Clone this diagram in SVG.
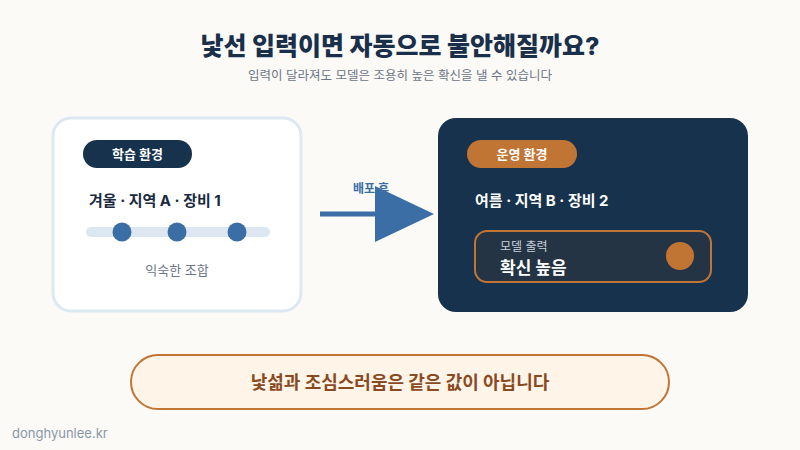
<svg xmlns="http://www.w3.org/2000/svg" width="800" height="450" viewBox="0 0 800 450">
<defs>
<style>
text{font-family:Inter,"Noto Sans CJK KR","Noto Sans",sans-serif}
.b{font-weight:700}
.pill{font-size:13px;font-weight:700;fill:#ffffff}
</style>
<marker id="ah" markerUnits="userSpaceOnUse" markerWidth="60" markerHeight="60" refX="0" refY="28" orient="auto" viewBox="0 0 60 56">
<path d="M0,0 L59,28 L0,56 Z" fill="#3a6ea5"/>
</marker>
</defs>
<rect width="800" height="450" fill="#fbfaf7"/>
<g id="title">
<text x="400" y="55" text-anchor="middle" font-weight="800" font-size="25" fill="#1a2f4a">낯선 입력이면 자동으로 불안해질까요?</text>
<text x="400" y="80" text-anchor="middle" font-size="12.5" fill="#6b7685">입력이 달라져도 모델은 조용히 높은 확신을 낼 수 있습니다</text>
</g>
<g id="train">
<rect x="53" y="118" width="248" height="193" rx="18" fill="#ffffff" stroke="#dde8f2" stroke-width="3"/>
<rect x="83" y="140" width="109" height="28" rx="14" fill="#17324d"/>
<text x="137.5" y="159" text-anchor="middle" class="pill">학습 환경</text>
<text x="89" y="206" class="b" font-size="15" fill="#1a2a40">겨울 · 지역 A · 장비 1</text>
<rect x="86" y="227" width="184" height="10" rx="5" fill="#dce7f1"/>
<circle cx="122" cy="232" r="9.5" fill="#3a6ea5"/>
<circle cx="177" cy="232" r="9.5" fill="#3a6ea5"/>
<circle cx="237" cy="232" r="9.5" fill="#3a6ea5"/>
<text x="177" y="275" text-anchor="middle" font-size="13" fill="#6b7685">익숙한 조합</text>
</g>
<g id="connectors">
<text x="371" y="193" text-anchor="middle" class="b" font-size="12" fill="#3a6ea5">배포 후</text>
<line x1="320" y1="214" x2="375" y2="214" stroke="#3a6ea5" stroke-width="5" marker-end="url(#ah)"/>
</g>
<g id="deploy">
<rect x="438" y="118" width="310" height="194" rx="18" fill="#17324d"/>
<rect x="467" y="140" width="110" height="28" rx="14" fill="#c07534"/>
<text x="522" y="159" text-anchor="middle" class="pill">운영 환경</text>
<text x="475" y="206" class="b" font-size="15" fill="#ffffff">여름 · 지역 B · 장비 2</text>
<g id="output">
<rect x="475" y="231" width="236" height="51" rx="12" fill="#243444" stroke="#c07534" stroke-width="2"/>
<text x="500" y="251" font-size="12" fill="#c8d0da">모델 출력</text>
<text x="500" y="274" class="b" font-size="17" fill="#ffffff">확신 높음</text>
<circle cx="680" cy="256" r="14" fill="#c07534"/>
</g>
</g>
<g id="note">
<rect x="131" y="355" width="538" height="54" rx="27" fill="#fff4e8" stroke="#c07534" stroke-width="2"/>
<text x="400" y="389" text-anchor="middle" class="b" font-size="18" fill="#8a4a1f">낯섦과 조심스러움은 같은 값이 아닙니다</text>
</g>
<text x="12" y="438" font-size="13" fill="#8a96a6">donghyunlee.kr</text>
</svg>
